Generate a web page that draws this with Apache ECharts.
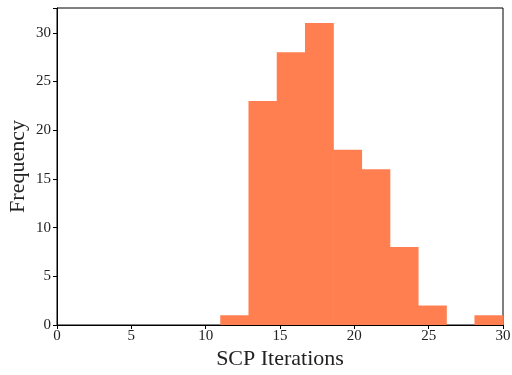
<!DOCTYPE html>
<html><head><meta charset="utf-8">
<script src="https://cdn.jsdelivr.net/npm/echarts@6/dist/echarts.min.js"></script>
<style>html,body{margin:0;padding:0;background:#fff}#c{width:512px;height:375px}</style>
</head><body><div id="c"></div>
<script>
const binEdges = [11, 12.9, 14.8, 16.7, 18.6, 20.5, 22.4, 24.3, 26.2, 28.1, 30];
const counts = [1, 23, 28, 31, 18, 16, 8, 2, 0, 1];
const xTicks = [0, 5, 10, 15, 20, 25, 30];
const yTicks = [0, 5, 10, 15, 20, 25, 30];

const data = counts.map((c, i) => [binEdges[i], binEdges[i + 1], c]);
const font = "'Liberation Serif', 'DejaVu Serif', serif";
const chart = echarts.init(document.getElementById('c'));
chart.setOption({
  animation: false,
  grid: { left: 57, right: 9, top: 8, bottom: 50, show: true, borderColor: '#000', borderWidth: 1,
    containLabel: false, outerBoundsMode: 'none' },
  xAxis: {
    type: 'value', min: 0, max: 30, interval: 5,
    name: 'SCP Iterations', nameLocation: 'middle', nameGap: 23, nameMoveOverlap: false,
    nameTextStyle: { fontFamily: font, fontSize: 22, color: '#222' },
    axisLine: { show: true, lineStyle: { color: '#000' } },
    axisTick: { show: true, inside: false, length: 4, lineStyle: { color: '#000' } },
    axisLabel: { fontFamily: font, fontSize: 15, color: '#222', margin: 4 },
    splitLine: { show: false }
  },
  yAxis: {
    type: 'value', min: 0, max: 32.55, interval: 5,
    name: 'Frequency', nameLocation: 'middle', nameGap: 28, nameMoveOverlap: false,
    nameTextStyle: { fontFamily: font, fontSize: 22, color: '#222' },
    axisLine: { show: true, lineStyle: { color: '#000' } },
    axisTick: { show: true, inside: false, length: 4, lineStyle: { color: '#000' } },
    axisLabel: { fontFamily: font, fontSize: 15, color: '#222', margin: 6,
      formatter: v => yTicks.includes(v) ? String(v) : '' },
    splitLine: { show: false }
  },
  series: [{
    type: 'custom',
    data: data,
    encode: { x: [0, 1], y: 2 },
    renderItem: (params, api) => {
      if (!api.value(2)) return null;
      const p0 = api.coord([api.value(0), 0]);
      const p1 = api.coord([api.value(1), api.value(2)]);
      return {
        type: 'rect',
        shape: { x: p0[0] - 0.3, y: p1[1], width: p1[0] - p0[0] + 0.6, height: p0[1] - p1[1] },
        style: { fill: '#FF7F50' }
      };
    }
  }]
});
</script></body></html>
